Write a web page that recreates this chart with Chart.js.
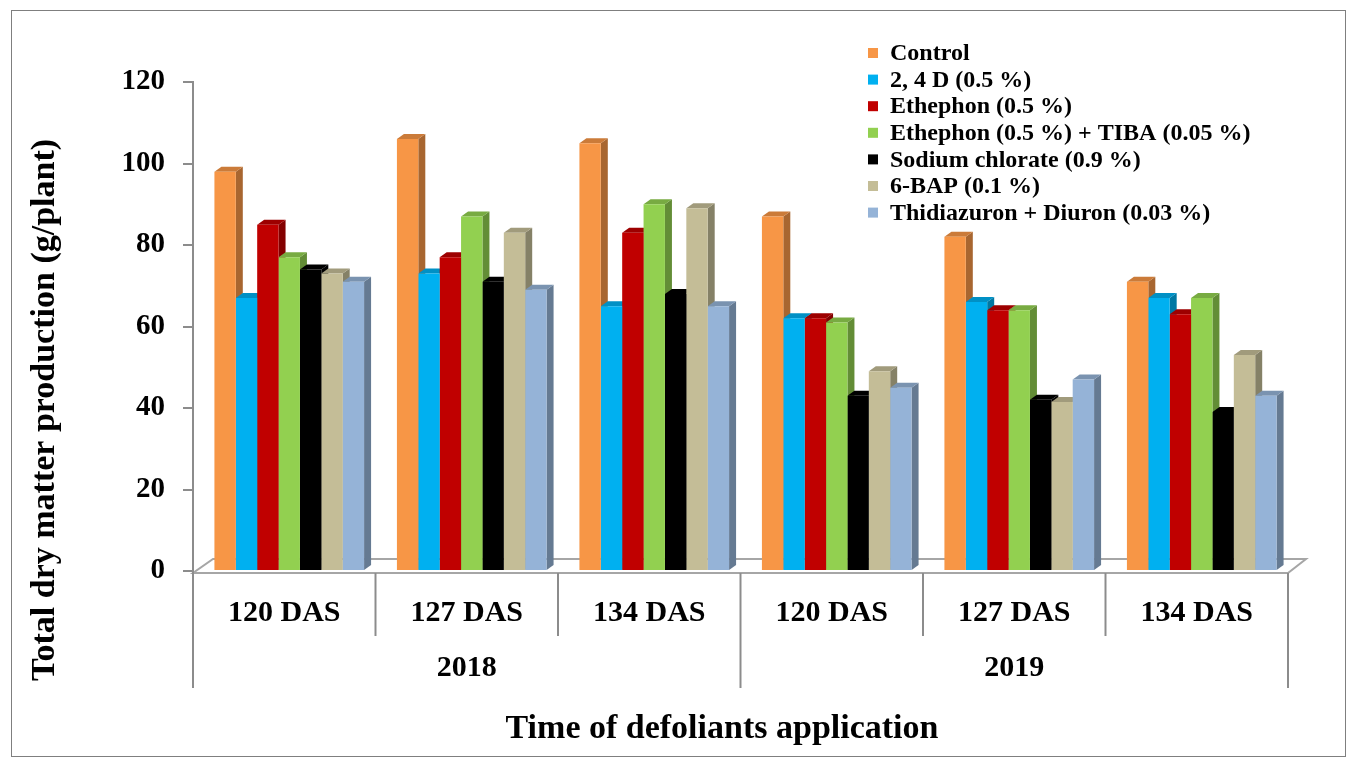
<!DOCTYPE html>
<html>
<head>
<meta charset="utf-8">
<script src="https://cdn.jsdelivr.net/npm/chart.js@4.4.1/dist/chart.umd.min.js"></script>
<style>
  html, body { margin: 0; padding: 0; background: #fff; }
  canvas { display: block; }
</style>
</head>
<body>
<canvas id="c" width="1357" height="765"></canvas>
<script>
// ---- data ----
const categories = ['120 DAS', '127 DAS', '134 DAS', '120 DAS', '127 DAS', '134 DAS'];
const years = ['2018', '2019'];
const seriesNames = ['Control', '2, 4 D (0.5 %)', 'Ethephon (0.5 %)', 'Ethephon (0.5 %) + TIBA (0.05 %)',
  'Sodium chlorate (0.9 %)', '6-BAP (0.1 %)', 'Thidiazuron + Diuron (0.03 %)'];
const control  = [98, 106, 105, 87, 82, 71];
const d24      = [67, 73, 65, 62, 66, 67];
const ethephon = [85, 77, 83, 62, 64, 63];
const ethTiba  = [77, 87, 90, 61, 64, 67];
const sodium   = [74, 71, 68, 43, 42, 39];
const bap      = [73, 83, 89, 49, 41.5, 53];
const thid     = [71, 69, 65, 45, 47, 43];
const yTicks   = [0, 20, 40, 60, 80, 100, 120];

const colors = ['#F79646', '#00B0F0', '#C00000', '#92D050', '#000000', '#C4BD97', '#95B3D7'];
const seriesValues = [control, d24, ethephon, ethTiba, sodium, bap, thid];

const FONT = "'Liberation Serif', 'Times New Roman', serif";
const AXIS_GREY = '#8c8c8c';

function shade(hex, f) {
  const n = parseInt(hex.slice(1), 16);
  const r = Math.round(((n >> 16) & 255) * f), g = Math.round(((n >> 8) & 255) * f), b = Math.round((n & 255) * f);
  return `rgb(${r},${g},${b})`;
}

const DX = 7, DY = 5, SHIFT = 5;

const decor = {
  id: 'decor',
  beforeDraw(chart) {
    const ctx = chart.ctx;
    ctx.save();
    ctx.fillStyle = '#fff';
    ctx.fillRect(0, 0, chart.width, chart.height);
    ctx.strokeStyle = '#7f7f7f';
    ctx.lineWidth = 1;
    ctx.strokeRect(11.5, 10.5, 1334, 746);
    ctx.restore();
  },
  beforeDatasetsDraw(chart) {
    const ctx = chart.ctx;
    const a = chart.chartArea;
    const yb = chart.scales.y.getPixelForValue(0);
    // 3D floor
    ctx.save();
    ctx.strokeStyle = '#a6a6a6';
    ctx.lineWidth = 2;
    ctx.beginPath();
    ctx.moveTo(a.left, yb + 2);
    ctx.lineTo(a.right, yb + 2);
    ctx.lineTo(a.right + 18, yb - 12);
    ctx.lineTo(a.left + 20, yb - 12);
    ctx.closePath();
    ctx.stroke();
    ctx.restore();
    // perspective offset of the bar block (restored after datasets draw)
    ctx.save();
    ctx.translate(SHIFT, 0);
    // side and top faces of bars
    const els = [];
    chart.data.datasets.forEach((ds, di) => {
      chart.getDatasetMeta(di).data.forEach(el => els.push({ el, c: ds.backgroundColor }));
    });
    els.sort((p, q) => p.el.x - q.el.x);
    els.forEach(({ el, c }) => {
      const l = el.x - el.width / 2, r = el.x + el.width / 2, t = el.y, b = el.base;
      ctx.fillStyle = shade(c, 0.68);
      ctx.beginPath();
      ctx.moveTo(r, t); ctx.lineTo(r + DX, t - DY); ctx.lineTo(r + DX, b - DY); ctx.lineTo(r, b);
      ctx.closePath(); ctx.fill();
      ctx.fillStyle = shade(c, 0.82);
      ctx.beginPath();
      ctx.moveTo(l, t); ctx.lineTo(l + DX, t - DY); ctx.lineTo(r + DX, t - DY); ctx.lineTo(r, t);
      ctx.closePath(); ctx.fill();
    });
  },
  afterDatasetsDraw(chart) {
    chart.ctx.restore();
  },
  afterDraw(chart) {
    const ctx = chart.ctx;
    const a = chart.chartArea;
    const xs = chart.scales.x;
    const yb = chart.scales.y.getPixelForValue(0);
    const step = xs.getPixelForValue(1) - xs.getPixelForValue(0);
    ctx.save();
    ctx.strokeStyle = AXIS_GREY;
    ctx.lineWidth = 2;
    // y axis extension down through the category table
    ctx.beginPath();
    ctx.moveTo(a.left, yb); ctx.lineTo(a.left, 688);
    ctx.stroke();
    // separators
    for (let i = 0; i <= categories.length; i++) {
      const x = xs.getPixelForValue(0) - step / 2 + i * step;
      const isYear = (i % 3 === 0);
      ctx.beginPath();
      ctx.moveTo(x, yb + 2);
      ctx.lineTo(x, isYear ? 688 : 636);
      ctx.stroke();
    }
    ctx.fillStyle = '#000';
    ctx.font = `bold 30px ${FONT}`;
    ctx.textAlign = 'center';
    ctx.textBaseline = 'middle';
    years.forEach((yr, k) => {
      const x = xs.getPixelForValue(0) - step / 2 + (k * 3 + 1.5) * step;
      ctx.fillText(yr, x, 668);
    });
    // axis titles
    ctx.font = `bold 34px ${FONT}`;
    ctx.fillText('Time of defoliants application', 722, 729);
    ctx.save();
    ctx.translate(45, 410);
    ctx.rotate(-Math.PI / 2);
    ctx.fillText('Total dry matter production (g/plant)', 0, 0);
    ctx.restore();
    // legend
    ctx.font = `bold 24px ${FONT}`;
    ctx.textAlign = 'left';
    chart.data.datasets.forEach((ds, i) => {
      const y = 53 + i * 26.6;
      ctx.fillStyle = ds.backgroundColor;
      ctx.fillRect(868, y - 5, 10, 10);
      ctx.fillStyle = '#000';
      ctx.fillText(ds.label, 890, y + 1);
    });
    ctx.restore();
  }
};

new Chart(document.getElementById('c'), {
  type: 'bar',
  data: {
    labels: categories,
    datasets: seriesNames.map((name, i) => ({
      label: name,
      data: seriesValues[i],
      backgroundColor: colors[i],
      borderWidth: 0,
      categoryPercentage: 0.82,
      barPercentage: 1.0
    }))
  },
  options: {
    responsive: false,
    animation: false,
    devicePixelRatio: 1,
    layout: { padding: { left: 25, right: 69, top: 82, bottom: 74 } },
    plugins: { legend: { display: false }, tooltip: { enabled: false } },
    scales: {
      x: {
        grid: { display: false },
        border: { display: false },
        ticks: { font: { family: FONT, size: 30, weight: 'bold' }, color: '#000', padding: 16, maxRotation: 0, autoSkip: false },
        afterFit(s) { s.height = 120; }
      },
      y: {
        min: 0, max: 120,
        afterBuildTicks(s) { s.ticks = yTicks.map(v => ({ value: v })); },
        ticks: { font: { family: FONT, size: 29, weight: 'bold' }, color: '#000', padding: 18 },
        grid: { drawOnChartArea: false, drawTicks: true, tickLength: 10, color: AXIS_GREY, lineWidth: 2 },
        border: { display: true, color: AXIS_GREY, width: 2 },
        afterFit(s) { s.width = 168; }
      }
    }
  },
  plugins: [decor]
});
</script>
</body>
</html>
